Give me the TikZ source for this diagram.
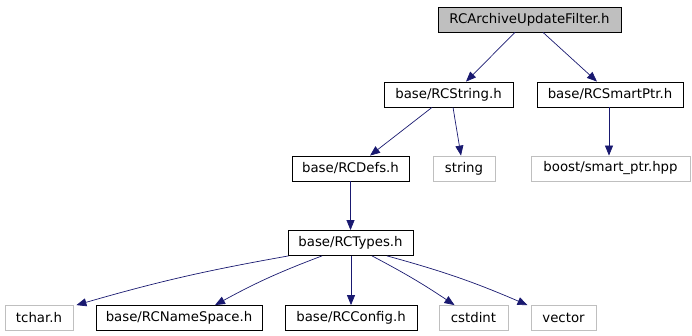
\documentclass[tikz,border=0pt]{standalone}
\usepackage{fontspec}
\setmainfont{DejaVu Sans}
\usetikzlibrary{arrows.meta}
\definecolor{edgeblue}{HTML}{191970}
\definecolor{extgray}{HTML}{BFBFBF}
\begin{document}
\begin{tikzpicture}[x=1pt,y=-1pt,
  every node/.style={font=\fontsize{13.3}{15}\selectfont, inner sep=0pt, minimum height=25pt, anchor=center},
  hdr/.style={draw=black, line width=0.8pt, minimum width=#1},
  root/.style={draw=black, fill=extgray, line width=0.8pt, minimum width=#1},
  ext/.style={draw=extgray, line width=0.8pt, minimum width=#1},
  dep/.style={draw=edgeblue, line width=0.7pt, -{Triangle[length=10pt,width=8pt]}}]
\useasboundingbox (0,0) rectangle (692,336);

% header nodes
\node[root=183pt] (A) at (529.5,19.5) {RCArchiveUpdateFilter.h};
\node[hdr=129pt] (B) at (448.5,94.5) {base/RCString.h};
\node[hdr=146pt] (C) at (610,94.5) {base/RCSmartPtr.h};
\node[hdr=117pt] (D) at (350.5,168.5) {base/RCDefs.h};
\node[ext=62pt] (E) at (464,168.5) {string};
\node[ext=159pt] (F) at (610.5,168.5) {boost/smart\_ptr.hpp};
\node[hdr=125pt] (G) at (350.5,243) {base/RCTypes.h};
\node[ext=68pt] (T) at (39,318) {tchar.h};
\node[hdr=166pt] (N) at (179,318) {base/RCNameSpace.h};
\node[hdr=132pt] (K) at (351,318) {base/RCConfig.h};
\node[ext=69pt] (S) at (473.5,318) {cstdint};
\node[ext=65pt] (V) at (563.5,318) {vector};

% include dependencies
\draw[dep] ([xshift=-14.5pt]A.south) -- ([xshift=17.5pt]B.north);
\draw[dep] ([xshift=13.5pt]A.south) -- ([xshift=-13pt]C.north);
\draw[dep] ([xshift=-16.5pt]B.south) -- ([xshift=19.5pt]D.north);
\draw[dep] ([xshift=4.5pt]B.south) -- ([xshift=-3pt]E.north);
\draw[dep] ([xshift=-1pt]C.south) -- ([xshift=-1.5pt]F.north);
\draw[dep] (D.south) -- (G.north);
\draw[dep] ([xshift=1pt]G.south west) to[bend right=3] ([xshift=3pt]T.north east);
\draw[dep] ([xshift=-28.5pt]G.south) to[bend right=4] ([xshift=36pt]N.north);
\draw[dep] ([xshift=0.5pt]G.south) -- (K.north);
\draw[dep] ([xshift=21.5pt]G.south) to[bend left=3] ([xshift=-19pt]S.north);
\draw[dep] ([xshift=36.5pt]G.south) to[bend left=4] ([xshift=-36pt]V.north);
\end{tikzpicture}
\end{document}
